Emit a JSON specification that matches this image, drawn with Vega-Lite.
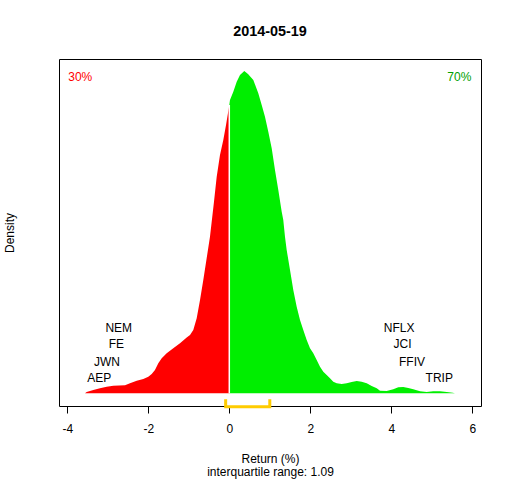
{
  "$schema": "https://vega.github.io/schema/vega-lite/v6.json",
  "width": 422,
  "height": 347,
  "autosize": "none",
  "padding": {"left": 59, "top": 59, "right": 31, "bottom": 74},
  "background": "white",
  "title": {
    "text": "2014-05-19",
    "fontSize": 14.4,
    "fontWeight": "bold",
    "font": "Liberation Sans",
    "color": "black",
    "anchor": "middle",
    "baseline": "alphabetic",
    "offset": 9
  },
  "datasets": {
    "curve": [
      {"x": -3.563, "y": 0, "side": "neg"},
      {"x": -3.521, "y": 0.0021, "side": "neg"},
      {"x": -3.358, "y": 0.0056, "side": "neg"},
      {"x": -3.193, "y": 0.0086, "side": "neg"},
      {"x": -3.027, "y": 0.0114, "side": "neg"},
      {"x": -2.864, "y": 0.0132, "side": "neg"},
      {"x": -2.575, "y": 0.0139, "side": "neg"},
      {"x": -2.452, "y": 0.0174, "side": "neg"},
      {"x": -2.286, "y": 0.022, "side": "neg"},
      {"x": -2.123, "y": 0.025, "side": "neg"},
      {"x": -2.0, "y": 0.029, "side": "neg"},
      {"x": -1.916, "y": 0.0338, "side": "neg"},
      {"x": -1.835, "y": 0.0408, "side": "neg"},
      {"x": -1.753, "y": 0.0526, "side": "neg"},
      {"x": -1.669, "y": 0.0614, "side": "neg"},
      {"x": -1.546, "y": 0.0702, "side": "neg"},
      {"x": -1.383, "y": 0.079, "side": "neg"},
      {"x": -1.217, "y": 0.0879, "side": "neg"},
      {"x": -1.052, "y": 0.098, "side": "neg"},
      {"x": -0.97, "y": 0.1025, "side": "neg"},
      {"x": -0.889, "y": 0.1113, "side": "neg"},
      {"x": -0.805, "y": 0.1319, "side": "neg"},
      {"x": -0.723, "y": 0.1641, "side": "neg"},
      {"x": -0.642, "y": 0.1993, "side": "neg"},
      {"x": -0.558, "y": 0.238, "side": "neg"},
      {"x": -0.477, "y": 0.2755, "side": "neg"},
      {"x": -0.378, "y": 0.3371, "side": "neg"},
      {"x": -0.311, "y": 0.3812, "side": "neg"},
      {"x": -0.23, "y": 0.4194, "side": "neg"},
      {"x": -0.148, "y": 0.4458, "side": "neg"},
      {"x": -0.081, "y": 0.4722, "side": "neg"},
      {"x": -0.02, "y": 0.4986, "side": "neg"},
      {"x": 0, "y": 0.5074, "side": "neg"},
      {"x": 0, "y": 0.5074, "side": "pos"},
      {"x": 0.017, "y": 0.5162, "side": "pos"},
      {"x": 0.099, "y": 0.5308, "side": "pos"},
      {"x": 0.183, "y": 0.5484, "side": "pos"},
      {"x": 0.264, "y": 0.5602, "side": "pos"},
      {"x": 0.37, "y": 0.5673, "side": "pos"},
      {"x": 0.462, "y": 0.562, "side": "pos"},
      {"x": 0.593, "y": 0.5514, "side": "pos"},
      {"x": 0.716, "y": 0.528, "side": "pos"},
      {"x": 0.8, "y": 0.5074, "side": "pos"},
      {"x": 0.881, "y": 0.4868, "side": "pos"},
      {"x": 0.963, "y": 0.4604, "side": "pos"},
      {"x": 1.047, "y": 0.4312, "side": "pos"},
      {"x": 1.128, "y": 0.393, "side": "pos"},
      {"x": 1.21, "y": 0.3577, "side": "pos"},
      {"x": 1.294, "y": 0.3195, "side": "pos"},
      {"x": 1.333, "y": 0.3049, "side": "pos"},
      {"x": 1.375, "y": 0.2755, "side": "pos"},
      {"x": 1.417, "y": 0.2521, "side": "pos"},
      {"x": 1.499, "y": 0.2169, "side": "pos"},
      {"x": 1.58, "y": 0.1817, "side": "pos"},
      {"x": 1.664, "y": 0.1523, "side": "pos"},
      {"x": 1.746, "y": 0.1289, "side": "pos"},
      {"x": 1.827, "y": 0.1113, "side": "pos"},
      {"x": 1.911, "y": 0.0937, "side": "pos"},
      {"x": 1.993, "y": 0.079, "side": "pos"},
      {"x": 2.074, "y": 0.0702, "side": "pos"},
      {"x": 2.158, "y": 0.0585, "side": "pos"},
      {"x": 2.24, "y": 0.0467, "side": "pos"},
      {"x": 2.321, "y": 0.0379, "side": "pos"},
      {"x": 2.405, "y": 0.032, "side": "pos"},
      {"x": 2.486, "y": 0.0262, "side": "pos"},
      {"x": 2.568, "y": 0.0202, "side": "pos"},
      {"x": 2.652, "y": 0.0174, "side": "pos"},
      {"x": 2.775, "y": 0.0162, "side": "pos"},
      {"x": 2.899, "y": 0.0174, "side": "pos"},
      {"x": 3.022, "y": 0.0197, "side": "pos"},
      {"x": 3.146, "y": 0.0215, "side": "pos"},
      {"x": 3.269, "y": 0.0202, "side": "pos"},
      {"x": 3.393, "y": 0.0174, "side": "pos"},
      {"x": 3.516, "y": 0.0127, "side": "pos"},
      {"x": 3.64, "y": 0.0086, "side": "pos"},
      {"x": 3.721, "y": 0.0044, "side": "pos"},
      {"x": 3.886, "y": 0.0039, "side": "pos"},
      {"x": 4.049, "y": 0.0069, "side": "pos"},
      {"x": 4.173, "y": 0.0104, "side": "pos"},
      {"x": 4.296, "y": 0.0109, "side": "pos"},
      {"x": 4.42, "y": 0.0092, "side": "pos"},
      {"x": 4.543, "y": 0.0069, "side": "pos"},
      {"x": 4.709, "y": 0.0033, "side": "pos"},
      {"x": 4.874, "y": 0.0021, "side": "pos"},
      {"x": 5.037, "y": 0.0033, "side": "pos"},
      {"x": 5.202, "y": 0.0033, "side": "pos"},
      {"x": 5.368, "y": 0.0021, "side": "pos"},
      {"x": 5.516, "y": 0.0009, "side": "pos"},
      {"x": 5.573, "y": 0, "side": "pos"}
    ],
    "stocks": [
      {"ticker": "NEM", "x": -2.73, "y": 0.1153},
      {"ticker": "FE", "x": -2.79, "y": 0.0866},
      {"ticker": "JWN", "x": -3.02, "y": 0.0555},
      {"ticker": "AEP", "x": -3.21, "y": 0.0273},
      {"ticker": "NFLX", "x": 4.195, "y": 0.1153},
      {"ticker": "JCI", "x": 4.277, "y": 0.0866},
      {"ticker": "FFIV", "x": 4.511, "y": 0.0555},
      {"ticker": "TRIP", "x": 5.185, "y": 0.0273}
    ],
    "shares": [
      {"side": "neg", "pct": "30%", "x": -3.68, "y": 0.5565},
      {"side": "pos", "pct": "70%", "x": 5.68, "y": 0.5565}
    ],
    "iqr": [
      {"o": 1, "x": -0.09, "y": -0.0107},
      {"o": 2, "x": -0.09, "y": -0.0238},
      {"o": 3, "x": 1.0, "y": -0.0238},
      {"o": 4, "x": 1.0, "y": -0.0107}
    ]
  },
  "encoding": {
    "x": {
      "field": "x",
      "type": "quantitative",
      "scale": {"domain": [-4.205, 6.215], "nice": false, "zero": false},
      "axis": {
        "values": [-4, -2, 0, 2, 4, 6],
        "labelExpr": "'' + datum.value",
        "domain": false,
        "grid": false,
        "tickSize": 7,
        "tickColor": "black",
        "labelFontSize": 12,
        "labelColor": "black",
        "labelPadding": 10,
        "labelFlush": false,
        "labelOverlap": false,
        "title": ["Return (%)", "interquartile range: 1.09"],
        "titleFontSize": 12,
        "titleFontWeight": "normal",
        "titleColor": "black",
        "titleLineHeight": 13.5,
        "titleY": 47,
        "titleBaseline": "top"
      }
    },
    "y": {
      "field": "y",
      "type": "quantitative",
      "scale": {"domain": [-0.02254, 0.5884], "nice": false, "zero": false},
      "axis": {
        "title": "Density",
        "labels": false,
        "ticks": false,
        "domain": false,
        "grid": false,
        "titleFontSize": 12,
        "titleFontWeight": "normal",
        "titleColor": "black",
        "titleAngle": 270,
        "titleX": -46,
        "titleY": 173.5,
        "titleBaseline": "alphabetic"
      }
    }
  },
  "layer": [
    {
      "data": {"name": "curve"},
      "mark": {"type": "area", "interpolate": "linear"},
      "encoding": {
        "y2": {"datum": 0},
        "color": {
          "field": "side",
          "type": "nominal",
          "scale": {"domain": ["neg", "pos"], "range": ["#FF0000", "#00EE00"]},
          "legend": null
        }
      }
    },
    {
      "data": {"name": "curve"},
      "transform": [{"filter": "datum.x == 0 && datum.side == 'pos'"}],
      "mark": {"type": "rule", "color": "white", "strokeWidth": 1.5},
      "encoding": {
        "y": {"datum": 0},
        "y2": {"field": "y"}
      }
    },
    {
      "data": {"values": [{}]},
      "mark": {"type": "rule", "color": "#BEBEBE", "strokeWidth": 1},
      "encoding": {
        "x": {"datum": -4.205},
        "x2": {"datum": 6.215},
        "y": {"datum": 0}
      }
    },
    {
      "data": {"name": "stocks"},
      "mark": {"type": "text", "fontSize": 12, "font": "Liberation Sans", "color": "black", "align": "center", "baseline": "middle"},
      "encoding": {
        "text": {"field": "ticker"}
      }
    },
    {
      "data": {"name": "shares"},
      "transform": [{"filter": "datum.side == 'neg'"}],
      "mark": {"type": "text", "fontSize": 12, "font": "Liberation Sans", "color": "#FF0000", "align": "center", "baseline": "middle"},
      "encoding": {
        "text": {"field": "pct"}
      }
    },
    {
      "data": {"name": "shares"},
      "transform": [{"filter": "datum.side == 'pos'"}],
      "mark": {"type": "text", "fontSize": 12, "font": "Liberation Sans", "color": "#00A000", "align": "center", "baseline": "middle"},
      "encoding": {
        "text": {"field": "pct"}
      }
    },
    {
      "data": {"name": "iqr"},
      "mark": {"type": "line", "color": "#FFCC00", "strokeWidth": 3, "strokeJoin": "miter", "strokeCap": "butt"},
      "encoding": {
        "order": {"field": "o", "type": "quantitative"}
      }
    }
  ],
  "config": {
    "font": "Liberation Sans",
    "view": {"stroke": "black", "strokeWidth": 1}
  }
}
